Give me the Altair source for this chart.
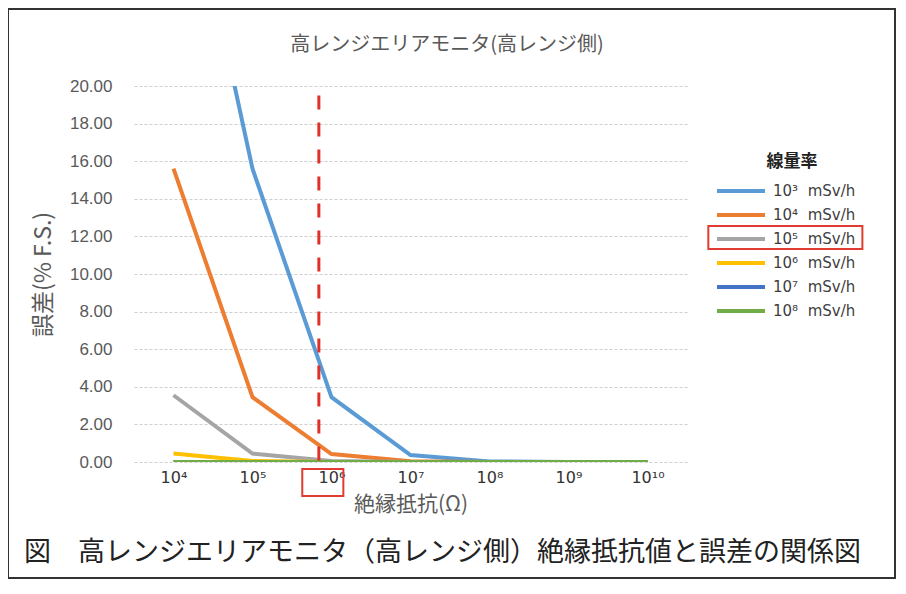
import json
import altair as alt
import pandas as pd

# ---------------- data ----------------
x_labels = ["10⁴", "10⁵", "10⁶", "10⁷", "10⁸", "10⁹", "10¹⁰"]
x_index = [0, 1, 2, 3, 4, 5, 6]

NB = "\u00a0\u00a0"
series_names = ["10³" + NB + "mSv/h", "10⁴" + NB + "mSv/h", "10⁵" + NB + "mSv/h",
                "10⁶" + NB + "mSv/h", "10⁷" + NB + "mSv/h", "10⁸" + NB + "mSv/h"]
series_colors = ["#5B9BD5", "#ED7D31", "#A5A5A5", "#FFC000", "#4472C4", "#70AD47"]

err_1e3 = [35.0, 15.6, 3.45, 0.37, 0.03, 0.0, 0.0]
err_1e4 = [15.6, 3.45, 0.42, 0.04, 0.0, 0.0, 0.0]
err_1e5 = [3.55, 0.45, 0.05, 0.0, 0.0, 0.0, 0.0]
err_1e6 = [0.45, 0.05, 0.0, 0.0, 0.0, 0.0, 0.0]
err_1e7 = [0.0, 0.0, 0.0, 0.0, 0.0, 0.0, 0.0]
err_1e8 = [0.0, 0.0, 0.0, 0.0, 0.0, 0.0, 0.0]

# red dashed marker (category position) and its top value
marker_x = [1.84]
marker_top = [19.5]

# red highlight boxes (x label 10^6, legend entry 10^5), in data units
box_x = [1.63, 6.77]
box_x2 = [2.15, 8.72]
box_y = [-0.37, 12.55]
box_y2 = [-1.81, 11.33]

title_text = "高レンジエリアモニタ(高レンジ側)"
caption_text = "図　高レンジエリアモニタ（高レンジ側）絶縁抵抗値と誤差の関係図"
y_ticks = [0, 2, 4, 6, 8, 10, 12, 14, 16, 18, 20]

# ---------------- tables ----------------
rows = []
for name, vals in zip(series_names,
                      [err_1e3, err_1e4, err_1e5, err_1e6, err_1e7, err_1e8]):
    for i, v in zip(x_index, vals):
        rows.append({"x": i, "err": v, "series": name})
df = pd.DataFrame(rows)

df_marker = pd.DataFrame({"x": marker_x, "top": marker_top, "bottom": [0.0]})
df_box = pd.DataFrame({"x": box_x, "x2": box_x2, "y": box_y, "y2": box_y2})
df_cap = pd.DataFrame({"t": [caption_text]})
df_title = pd.DataFrame({"t": [title_text]})

JP = "Noto Sans CJK JP"
LAT = "Liberation Sans"
SUP = "DejaVu Sans"

xscale = alt.Scale(domain=[-0.5, 6.5], nice=False, zero=False)
yscale = alt.Scale(domain=[0, 20], nice=False, zero=False)

label_expr = json.dumps(x_labels, ensure_ascii=False) + "[datum.value]"

x_axis = alt.Axis(values=x_index, labelExpr=label_expr, title="絶縁抵抗(Ω)",
                  grid=False, domain=False, ticks=False,
                  labelFontSize=16, labelFont=SUP, labelColor="#333333",
                  labelPadding=7, labelOverlap=False,
                  titleFontSize=21, titleFont=JP,
                  titleColor="#595959", titleFontWeight="normal",
                  titlePadding=8)
y_axis = alt.Axis(values=y_ticks, format=".2f", title="誤差(% F.S.)",
                  grid=True, gridColor="#CFCFCF", gridDash=[3, 2],
                  domain=False, ticks=False, labelOverlap=False,
                  labelFontSize=17, labelFont=LAT, labelColor="#595959",
                  labelPadding=22, titleFontSize=23, titleFont=JP,
                  titleColor="#595959", titleFontWeight="normal",
                  titlePadding=14)

lines = alt.Chart(df).mark_line(strokeWidth=4, clip=True).encode(
    x=alt.X("x:Q", scale=xscale, axis=x_axis),
    y=alt.Y("err:Q", scale=yscale, axis=y_axis),
    color=alt.Color("series:N",
                    scale=alt.Scale(domain=series_names, range=series_colors),
                    legend=alt.Legend(title="線量率", orient="none",
                                      legendX=595, legendY=68,
                                      titleFont=JP, titleFontSize=17,
                                      titleFontWeight="bold", titleColor="#222222",
                                      titleAnchor="middle", titlePadding=8,
                                      symbolType="M-2.4,0H2.4", symbolSize=400,
                                      symbolStrokeWidth=4, labelOffset=20,
                                      labelFont=SUP, labelFontSize=15,
                                      labelColor="#404040", rowPadding=4,
                                      padding=0)),
)

marker = alt.Chart(df_marker).mark_rule(
    color="#E0302A", strokeWidth=3, strokeDash=[14, 13]
).encode(
    x=alt.X("x:Q", scale=xscale, axis=x_axis),
    y=alt.Y("top:Q", scale=yscale, axis=y_axis),
    y2="bottom:Q",
)

boxes = alt.Chart(df_box).mark_rect(
    fillOpacity=0, stroke="#E03C31", strokeWidth=2
).encode(
    x=alt.X("x:Q", scale=xscale, axis=x_axis),
    x2="x2:Q",
    y=alt.Y("y:Q", scale=yscale, axis=y_axis),
    y2="y2:Q",
)

frame = alt.Chart(df_cap).mark_rect(
    fillOpacity=0, stroke="#333333", strokeWidth=2
).encode(
    x=alt.value(-126), x2=alt.value(761), y=alt.value(-77), y2=alt.value(492)
)

title = alt.Chart(df_title).mark_text(
    align="center", baseline="middle", font=JP, fontSize=20, color="#595959"
).encode(
    x=alt.value(313), y=alt.value(-41), text="t:N"
)

caption = alt.Chart(df_cap).mark_text(
    align="left", baseline="middle", font=JP, fontSize=27, color="#222222"
).encode(
    x=alt.value(-110), y=alt.value(467), text="t:N"
)

chart = alt.layer(lines, marker, boxes, frame, title, caption).properties(
    width=553,
    height=376,
    background="white",
    autosize=alt.AutoSizeParams(type="none"),
    padding={"left": 126, "top": 78, "right": 210, "bottom": 118},
).configure_view(stroke=None)

chart.save("out.html", embed_options={"renderer": "svg", "actions": False})
